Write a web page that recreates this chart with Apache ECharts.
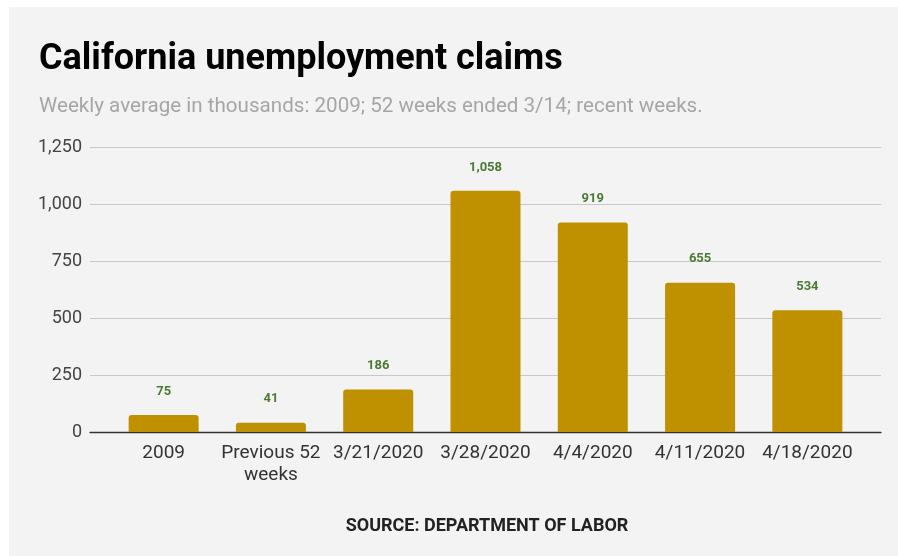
<!DOCTYPE html>
<html><head><meta charset="utf-8">
<script src="https://cdn.jsdelivr.net/npm/echarts@6/dist/echarts.min.js"></script>
<style>
html,body{margin:0;padding:0;background:#fff;}
#wrap{position:absolute;left:9px;top:7px;width:889px;height:549px;background:#f3f3f3;}
#c{position:absolute;left:-9px;top:-7px;width:898px;height:556px;}
</style></head>
<body><div id="wrap"><div id="c"></div></div>
<script>
var categories = ['2009', 'Previous 52\nweeks', '3/21/2020', '3/28/2020', '4/4/2020', '4/11/2020', '4/18/2020'];
var claims = [75, 41, 186, 1058, 919, 655, 534];
var yTicks = [0, 250, 500, 750, 1000, 1250];

var chart = echarts.init(document.getElementById('c'));
var ff = 'Roboto, "Liberation Sans", sans-serif';
chart.setOption({
  backgroundColor: 'transparent',
  animation: false,
  title: [{
    text: 'California unemployment claims',
    left: 34, top: 37,
    textStyle: {fontFamily: ff, fontWeight: 'bold', fontSize: 36, color: '#000'}
  }, {
    text: 'Weekly average in thousands: 2009; 52 weeks ended 3/14; recent weeks.',
    left: 34, top: 91,
    textStyle: {fontFamily: ff, fontWeight: 'normal', fontSize: 20.6, color: '#a6a6a6'}
  }, {
    text: 'SOURCE: DEPARTMENT OF LABOR',
    left: 482, textAlign: 'center', top: 512,
    textStyle: {fontFamily: ff, fontWeight: 'bold', fontSize: 18, color: '#222'}
  }],
  grid: [
    {left: 90, right: 17, top: 147, bottom: 124, containLabel: false},
    {left: 110, right: 37, top: 147, bottom: 124, containLabel: false}
  ],
  xAxis: [{
    gridIndex: 0, type: 'category', data: categories,
    axisLine: {show: true, lineStyle: {color: '#333', width: 1.3}},
    axisTick: {show: false}, axisLabel: {show: false}
  }, {
    gridIndex: 1, type: 'category', data: categories,
    axisLine: {show: false}, axisTick: {show: false},
    axisLabel: {fontFamily: ff, fontSize: 19, color: '#333', margin: 10, lineHeight: 22, interval: 0}
  }],
  yAxis: [{
    gridIndex: 0, type: 'value', min: 0, max: 1250, interval: 250,
    axisLine: {show: false}, axisTick: {show: false},
    axisLabel: {fontFamily: ff, fontSize: 18, color: '#444', margin: 8,
      formatter: function (v) { return yTicks.indexOf(v) >= 0 ? v.toLocaleString('en-US') : ''; }},
    splitLine: {lineStyle: {color: '#c8c8c8', width: 1}}
  }, {
    gridIndex: 1, type: 'value', min: 0, max: 1250, interval: 250,
    axisLine: {show: false}, axisTick: {show: false}, axisLabel: {show: false},
    splitLine: {show: false}
  }],
  series: [{
    type: 'bar', xAxisIndex: 1, yAxisIndex: 1,
    data: claims, barWidth: 70,
    itemStyle: {color: '#bf9000', borderRadius: [3, 3, 0, 0]},
    label: {show: true, position: 'top', distance: 17, fontFamily: ff, fontWeight: 'bold',
      fontSize: 13, color: '#4b7a35',
      formatter: function (p) { return p.value.toLocaleString('en-US'); }}
  }]
});
</script></body></html>
